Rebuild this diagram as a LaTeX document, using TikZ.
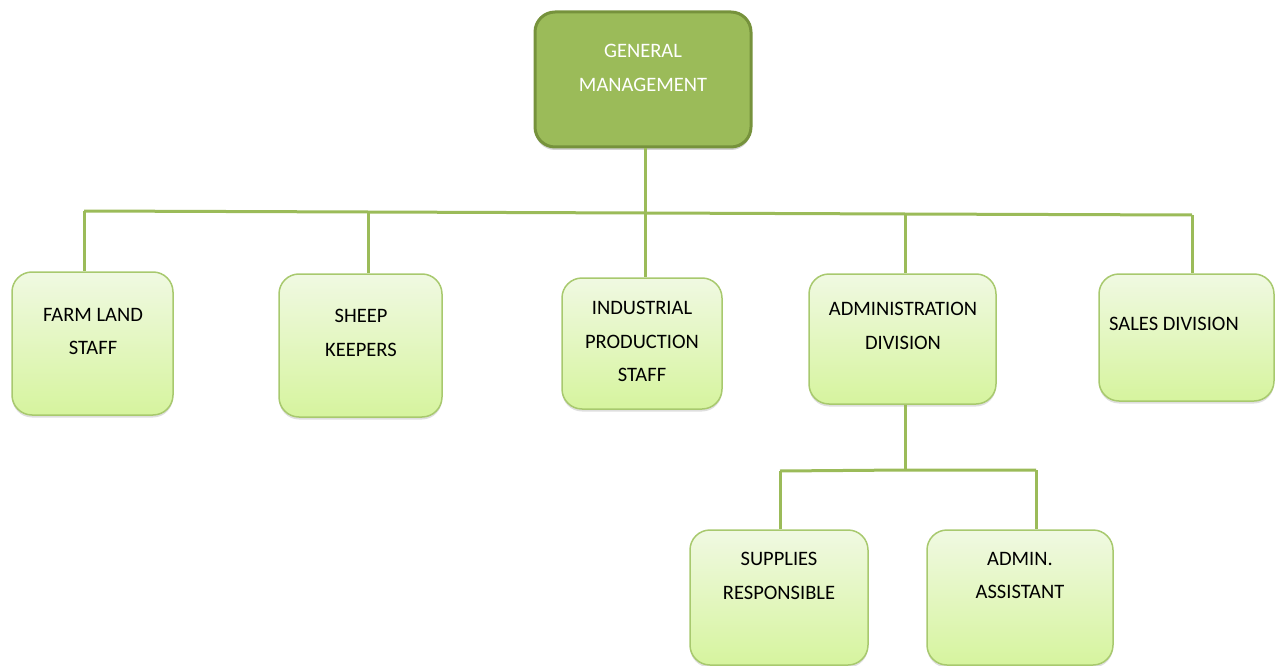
\documentclass[tikz,border=0pt]{standalone}
\usepackage{fontspec}
\setmainfont{Carlito}
\usetikzlibrary{shadows}
\definecolor{gmfill}{HTML}{9BBB59}
\definecolor{gmdraw}{HTML}{76923C}
\definecolor{boxtop}{HTML}{F0F9E2}
\definecolor{boxbot}{HTML}{D6F49E}
\definecolor{boxdraw}{HTML}{A8C96E}
\definecolor{conncol}{HTML}{9BBB59}
\tikzset{
  unitbox/.style={draw=boxdraw, line width=1.5pt, rounded corners=20pt,
    top color=boxtop, bottom color=boxbot, inner sep=0pt,
    drop shadow={opacity=0.25, shadow xshift=0pt, shadow yshift=-2.5pt}},
  gmbox/.style={draw=gmdraw, line width=3pt, rounded corners=20pt, fill=gmfill, inner sep=0pt,
    drop shadow={opacity=0.35, shadow xshift=0pt, shadow yshift=-3pt}},
  lbl/.style={font=\fontsize{20.5}{33.5}\selectfont, align=center, text=black, anchor=north, inner sep=0pt},
  conn/.style={draw=conncol, line width=3pt}
}
\begin{document}
\begin{tikzpicture}[x=1pt,y=-1pt]
\useasboundingbox (0,0) rectangle (1277,666);
\begin{scope}
\clip (0,0) rectangle (1277,666);
% connectors
\coordinate (b1) at (84,211);
\coordinate (b2) at (368,212);
\coordinate (b3) at (645,213);
\coordinate (b4) at (905,214);
\coordinate (b5) at (1192,215);
\coordinate (a0) at (905,470);
\coordinate (a1) at (780,471);
\coordinate (a2) at (1036,470);
% boxes
\node[gmbox, minimum width=216pt, minimum height=135pt] (gm) at (643,79.5) {};
\node[unitbox, minimum width=161pt, minimum height=143pt] (farm) at (92.5,343.5) {};
\node[unitbox, minimum width=163pt, minimum height=143pt] (sheep) at (360.5,345.5) {};
\node[unitbox, minimum width=160pt, minimum height=131pt] (ind) at (642,343.5) {};
\node[unitbox, minimum width=187pt, minimum height=130pt] (adm) at (902.5,339) {};
\node[unitbox, minimum width=175pt, minimum height=127pt] (sales) at (1186.5,337.5) {};
\node[unitbox, minimum width=178pt, minimum height=135pt] (sup) at (779,597.5) {};
\node[unitbox, minimum width=186pt, minimum height=135pt] (ass) at (1020,597.5) {};
% lines
\draw[conn] (gm.south -| b3) -- (b3);
\draw[conn] (b1) -- (b2) -- (b3) -- (b4) -- (b5);
\draw[conn] (b1) -- (b1 |- farm.north);
\draw[conn] (b2) -- (b2 |- sheep.north);
\draw[conn] (b3) -- (b3 |- ind.north);
\draw[conn] (b4) -- (b4 |- adm.north);
\draw[conn] (b5) -- (b5 |- sales.north);
\draw[conn] (adm.south -| a0) -- (a0);
\draw[conn] (a1) -- (a0) -- (a2);
\draw[conn] (a1) -- (a1 |- sup.north);
\draw[conn] (a2) -- (a2 |- ass.north);
% labels
\node[lbl, text=white] (tgm) at (643,44) {GENERAL\\MANAGEMENT};
\node[lbl] (tfarm) at (93,308) {FARM LAND\\STAFF};
\node[lbl] (tsheep) at (361,309) {SHEEP\\KEEPERS};
\node[lbl] (tind) at (642,301) {INDUSTRIAL\\PRODUCTION\\STAFF};
\node[lbl] (tadm) at (903,302) {ADMINISTRATION\\DIVISION};
\node[lbl] (tsales) at (1174,317) {SALES DIVISION};
\node[lbl] (tsup) at (779,552) {SUPPLIES\\RESPONSIBLE};
\node[lbl] (tass) at (1020,552) {ADMIN.\\ASSISTANT};
\end{scope}
\end{tikzpicture}
\end{document}
